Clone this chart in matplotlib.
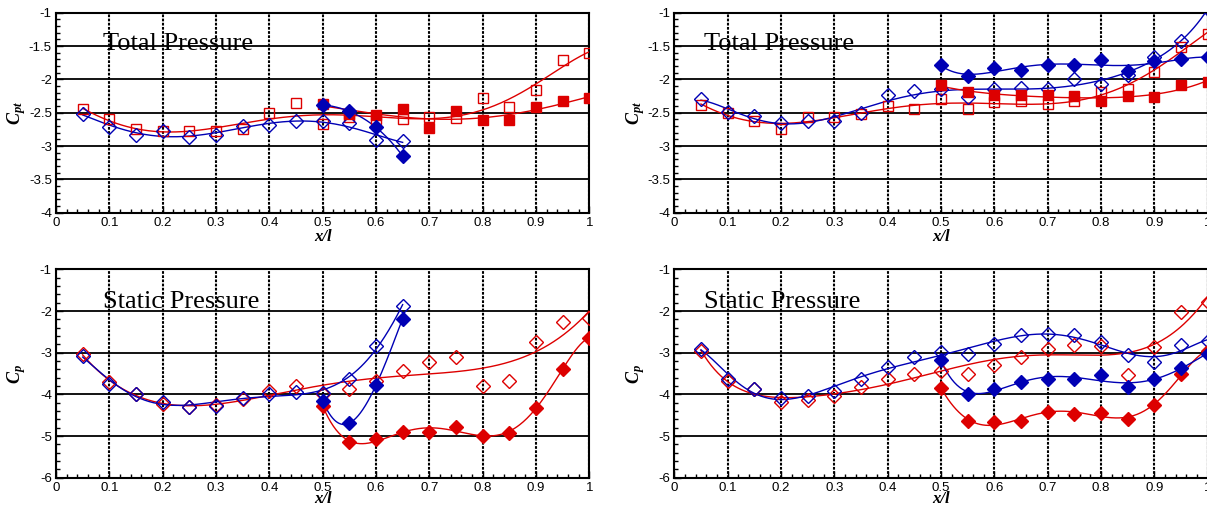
# pressure coefficient distributions, total and static, two configurations
import numpy as np
import matplotlib.pyplot as plt
from matplotlib.ticker import MultipleLocator, FuncFormatter

plt.rcParams['axes.unicode_minus'] = False
plt.rcParams['mathtext.fontset'] = 'custom'
plt.rcParams['mathtext.it'] = 'Liberation Serif:italic:bold'
plt.rcParams['mathtext.rm'] = 'Liberation Serif:bold'

# x stations
x_full = [0.05, 0.10, 0.15, 0.20, 0.25, 0.30, 0.35, 0.40, 0.45, 0.50,
          0.55, 0.60, 0.65, 0.70, 0.75, 0.80, 0.85, 0.90, 0.95, 1.00]
x_front = [0.05, 0.10, 0.15, 0.20, 0.25, 0.30, 0.35, 0.40, 0.45, 0.50,
           0.55, 0.60, 0.65]
x_back = [0.50, 0.55, 0.60, 0.65, 0.70, 0.75, 0.80, 0.85, 0.90, 0.95, 1.00]
x_short = [0.50, 0.55, 0.60, 0.65]

# top left: total pressure
tl_red_open = [-2.45, -2.59, -2.75, -2.78, -2.77, -2.77, -2.75, -2.51, -2.36, -2.67,
               -2.56, -2.60, -2.60, -2.56, -2.58, -2.28, -2.41, -2.16, -1.71, -1.61]
tl_blue_open = [-2.52, -2.71, -2.83, -2.78, -2.86, -2.84, -2.70, -2.69, -2.63, -2.63,
                -2.65, -2.91, -2.92]
tl_red_fill = [-2.37, -2.52, -2.53, -2.44, -2.73, -2.48, -2.61, -2.61, -2.41, -2.33, -2.28]
tl_blue_fill = [-2.38, -2.48, -2.72, -3.15]

# top right: total pressure
tr_red_open = [-2.38, -2.51, -2.63, -2.75, -2.57, -2.56, -2.52, -2.40, -2.45, -2.30,
               -2.45, -2.34, -2.33, -2.37, -2.33, -2.19, -2.15, -1.89, -1.51, -1.32]
tr_blue_open = [-2.30, -2.49, -2.55, -2.65, -2.62, -2.63, -2.51, -2.24, -2.17, -2.15,
                -2.27, -2.14, -2.13, -2.14, -2.00, -2.07, -1.94, -1.66, -1.43, -0.95]
tr_red_fill = [-2.09, -2.19, -2.23, -2.24, -2.24, -2.25, -2.33, -2.25, -2.26, -2.09, -2.04]
tr_blue_fill = [-1.79, -1.95, -1.83, -1.86, -1.78, -1.78, -1.71, -1.88, -1.72, -1.70, -1.67]

# bottom left: static pressure
bl_red_open = [-3.03, -3.71, -3.99, -4.22, -4.30, -4.26, -4.10, -3.92, -3.80, -3.98,
               -3.88, -3.67, -3.44, -3.22, -3.10, -3.79, -3.68, -2.75, -2.27, -2.16]
bl_blue_open = [-3.08, -3.74, -3.98, -4.18, -4.30, -4.27, -4.08, -3.99, -3.95, -3.96,
                -3.64, -2.83, -1.87]
bl_red_fill = [-4.27, -5.15, -5.08, -4.90, -4.90, -4.79, -5.00, -4.92, -4.32, -3.39, -2.64]
bl_blue_fill = [-4.15, -4.69, -3.78, -2.18]

# bottom right: static pressure
br_red_open = [-2.97, -3.67, -3.88, -4.18, -4.14, -4.04, -3.82, -3.63, -3.50, -3.44,
               -3.50, -3.30, -3.11, -2.92, -2.82, -2.84, -3.54, -2.87, -2.02, -1.78]
br_blue_open = [-2.90, -3.63, -3.86, -4.08, -4.04, -3.91, -3.62, -3.34, -3.11, -2.98,
                -3.03, -2.78, -2.58, -2.56, -2.57, -2.74, -3.06, -3.23, -2.82, -2.72]
br_red_fill = [-3.84, -4.64, -4.66, -4.63, -4.42, -4.47, -4.44, -4.58, -4.26, -3.52, -2.96]
br_blue_fill = [-3.18, -3.98, -3.86, -3.70, -3.64, -3.62, -3.54, -3.82, -3.63, -3.36, -3.02]

RED = '#dd0000'
BLUE = '#0000b4'


def series(ax, x, y, color, marker, filled, deg):
    x = np.array(x)
    y = np.array(y)
    c = np.polyfit(x, y, deg)
    xx = np.linspace(x.min(), x.max(), 300)
    ax.plot(xx, np.polyval(c, xx), color=color, lw=1.0, zorder=3)
    ms = 6.5 if marker == 's' else 7
    ax.plot(x, y, ls='none', marker=marker, ms=ms, mew=1.0, mec=color,
            mfc=color if filled else 'none', zorder=4)


def style(ax, ymin, ymajor, yminor, title, ylab, xlab_y, tx, ty):
    ax.set_xlim(0, 1)
    ax.set_ylim(ymin, -1)
    ax.xaxis.set_major_locator(MultipleLocator(0.1))
    ax.xaxis.set_minor_locator(MultipleLocator(0.02))
    ax.yaxis.set_major_locator(MultipleLocator(ymajor))
    ax.yaxis.set_minor_locator(MultipleLocator(yminor))
    fmt = FuncFormatter(lambda v, p: '%g' % round(v, 3))
    ax.xaxis.set_major_formatter(fmt)
    ax.yaxis.set_major_formatter(fmt)
    ax.tick_params(which='both', direction='in', top=False, right=False,
                   labelsize=9.5, width=1.0, pad=3)
    ax.tick_params(which='major', length=5)
    ax.tick_params(which='minor', length=3)
    for t in ax.get_xticklabels() + ax.get_yticklabels():
        t.set_family('Liberation Sans')
    ax.set_axisbelow(True)
    ax.xaxis.grid(True, ls=(0, (1.3, 0.7)), lw=1.5, color='black')
    ax.yaxis.grid(True, ls='-', lw=1.3, color='black')
    for s in ax.spines.values():
        s.set_linewidth(1.5)
    ax.text(tx, ty, title, transform=ax.transAxes, family='Liberation Serif',
            fontsize=19, va='center', ha='left')
    ax.set_ylabel(ylab, fontsize=13)
    ax.yaxis.set_label_coords(-0.052, 0.5)
    ax.set_xlabel('x/l', family='Liberation Serif', style='italic',
                  weight='bold', fontsize=12)
    ax.xaxis.set_label_coords(0.5, xlab_y)


fig = plt.figure(figsize=(12.07, 5.08), dpi=100)
ax1 = fig.add_axes([56 / 1207, 1 - 212.7 / 508, 533.3 / 1207, 200 / 508])
ax2 = fig.add_axes([674.3 / 1207, 1 - 212.7 / 508, 533.3 / 1207, 200 / 508])
ax3 = fig.add_axes([56 / 1207, 1 - 477.7 / 508, 533.3 / 1207, 208.3 / 508])
ax4 = fig.add_axes([674.3 / 1207, 1 - 477.7 / 508, 533.3 / 1207, 208.3 / 508])

series(ax1, x_full, tl_red_open, RED, 's', False, 6)
series(ax1, x_front, tl_blue_open, BLUE, 'D', False, 5)
series(ax1, x_back, tl_red_fill, RED, 's', True, 4)
series(ax1, x_short, tl_blue_fill, BLUE, 'D', True, 3)

series(ax2, x_full, tr_red_open, RED, 's', False, 6)
series(ax2, x_full, tr_blue_open, BLUE, 'D', False, 7)
series(ax2, x_back, tr_red_fill, RED, 's', True, 4)
series(ax2, x_back, tr_blue_fill, BLUE, 'D', True, 5)

series(ax3, x_full, bl_red_open, RED, 'D', False, 5)
series(ax3, x_front, bl_blue_open, BLUE, 'D', False, 6)
series(ax3, x_back, bl_red_fill, RED, 'D', True, 6)
series(ax3, x_short, bl_blue_fill, BLUE, 'D', True, 3)

series(ax4, x_full, br_red_open, RED, 'D', False, 7)
series(ax4, x_full, br_blue_open, BLUE, 'D', False, 8)
series(ax4, x_back, br_red_fill, RED, 'D', True, 6)
series(ax4, x_back, br_blue_fill, BLUE, 'D', True, 6)

style(ax1, -4, 0.5, 0.1, 'Total Pressure', r'$C_{pt}$', -0.08, 0.088, 0.845)
style(ax2, -4, 0.5, 0.1, 'Total Pressure', r'$C_{pt}$', -0.08, 0.055, 0.845)
style(ax3, -6, 1, 0.2, 'Static Pressure', r'$C_{p}$', -0.062, 0.088, 0.845)
style(ax4, -6, 1, 0.2, 'Static Pressure', r'$C_{p}$', -0.062, 0.055, 0.845)

fig.savefig('out.png', dpi=100)
